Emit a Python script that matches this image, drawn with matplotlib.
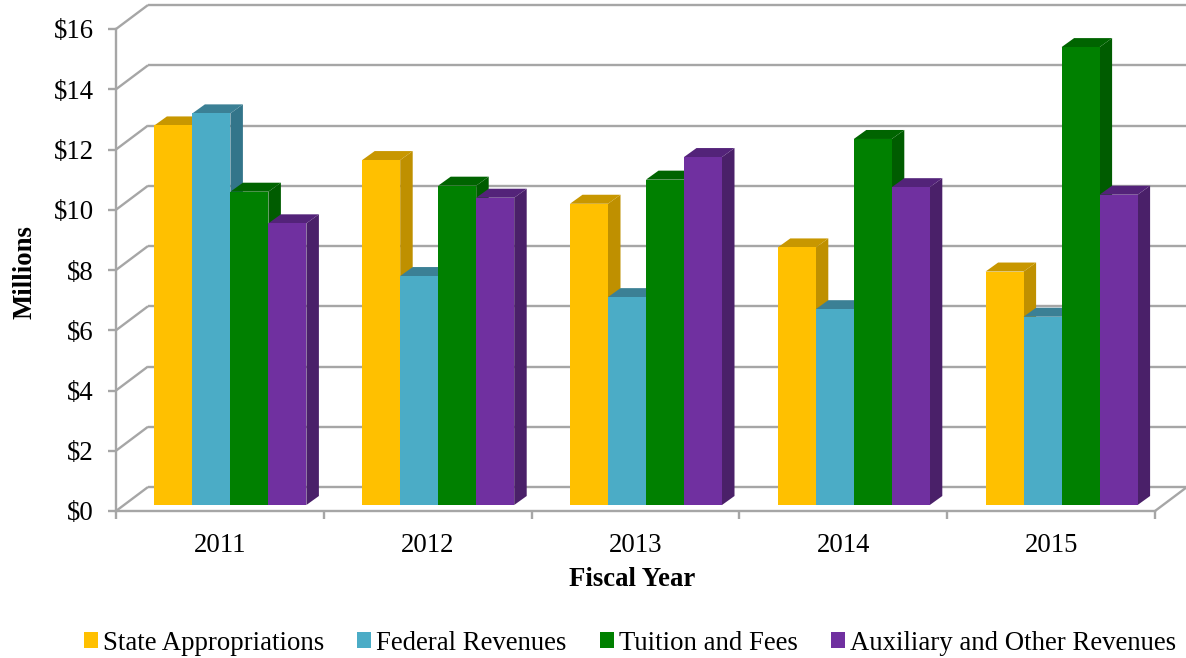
import matplotlib
matplotlib.use("Agg")
import matplotlib.pyplot as plt
from matplotlib.patches import Patch

plt.rcParams['font.family'] = ['Liberation Serif', 'DejaVu Serif']

years = ["2011", "2012", "2013", "2014", "2015"]
state = [12.6, 11.45, 10.0, 8.55, 7.75]
federal = [13.0, 7.6, 6.9, 6.5, 6.25]
tuition = [10.4, 10.6, 10.8, 12.15, 15.2]
auxiliary = [9.35, 10.2, 11.55, 10.55, 10.3]
series_names = ["State Appropriations", "Federal Revenues", "Tuition and Fees",
                "Auxiliary and Other Revenues"]
series_values = [state, federal, tuition, auxiliary]
front_colors = ["#FFC000", "#4BACC6", "#008000", "#7030A0"]
top_colors = ["#C89700", "#3B8095", "#006400", "#532379"]
side_colors = ["#BF9000", "#33758A", "#005C00", "#4A2069"]
yticks = list(range(0, 17, 2))

W, H = 1186, 658
L, R, T, B = 116, 1155, 29, 511
fig = plt.figure(figsize=(W / 100, H / 100), dpi=100)
ax = fig.add_axes([L / W, 1 - B / H, (R - L) / W, (B - T) / H])
ax.set_xlim(0, 5)
ax.set_ylim(0, 16)
px_x = 5 / (R - L)
px_y = 16 / (B - T)

GRID = "#A6A6A6"
LW = 1.7
wall_dx, wall_dy = 32 * px_x, 24 * px_y
for v in yticks:
    ax.plot([0, wall_dx], [v, v + wall_dy], color=GRID, lw=LW, clip_on=False, zorder=1,
            solid_capstyle='butt')
    ax.plot([wall_dx, 5 + wall_dx], [v + wall_dy, v + wall_dy], color=GRID, lw=LW,
            clip_on=False, zorder=1, solid_capstyle='butt')
ax.plot([5, 5 + wall_dx], [0, wall_dy], color=GRID, lw=LW, clip_on=False, zorder=1)

bar_w = 38 * px_x
depth_dx, depth_dy = 12.5 * px_x, 9 * px_y
lift = 6 * px_y
shift = 10.5 * px_x
z = 3
for g in range(len(years)):
    center = g + 0.5 + shift
    for i, vals in enumerate(series_values):
        left = center + (i - 2) * bar_w
        right = left + bar_w
        top = lift + vals[g]
        ax.fill([right, right + depth_dx, right + depth_dx, right],
                [lift, lift + depth_dy, top + depth_dy, top],
                color=side_colors[i], lw=0, zorder=z, clip_on=False)
        ax.fill([left, left + depth_dx, right + depth_dx, right],
                [top, top + depth_dy, top + depth_dy, top],
                color=top_colors[i], lw=0, zorder=z, clip_on=False)
        ax.bar(left, vals[g], width=bar_w, bottom=lift, align='edge',
               color=front_colors[i], lw=0, zorder=z + 0.5)
        z += 1

for s in ("top", "right"):
    ax.spines[s].set_visible(False)
for s in ("left", "bottom"):
    ax.spines[s].set_color(GRID)
    ax.spines[s].set_linewidth(LW)

FS = 19.3
ax.set_yticks(yticks)
ax.set_yticklabels([f"${v}" for v in yticks], fontsize=FS, color="black")
ax.tick_params(axis='y', length=6, width=LW, color=GRID, pad=10)
ax.set_xticks(range(6))
ax.set_xticklabels([])
ax.tick_params(axis='x', which='major', length=6, width=LW, color=GRID)
ax.set_xticks([g + 0.5 for g in range(5)], minor=True)
ax.set_xticklabels(years, minor=True, fontsize=FS)
ax.tick_params(axis='x', which='minor', length=0, pad=15.5)

fig.text(632 / W, 1 - 579 / H, "Fiscal Year", fontsize=FS, fontweight='bold',
         ha='center', va='center')
fig.text(25 / W, 1 - 272 / H, "Millions", fontsize=FS, fontweight='bold',
         rotation=90, ha='center', va='center')

handles = [Patch(facecolor=c, edgecolor='none', label=n)
           for c, n in zip(front_colors, series_names)]
fig.legend(handles=handles, ncol=4, loc='center', bbox_to_anchor=(630 / W, 1 - 643 / H),
           frameon=False, fontsize=FS, handlelength=0.52, handleheight=0.52,
           handletextpad=0.19, columnspacing=1.23, borderpad=0, borderaxespad=0)

fig.savefig("out.png", dpi=100)
